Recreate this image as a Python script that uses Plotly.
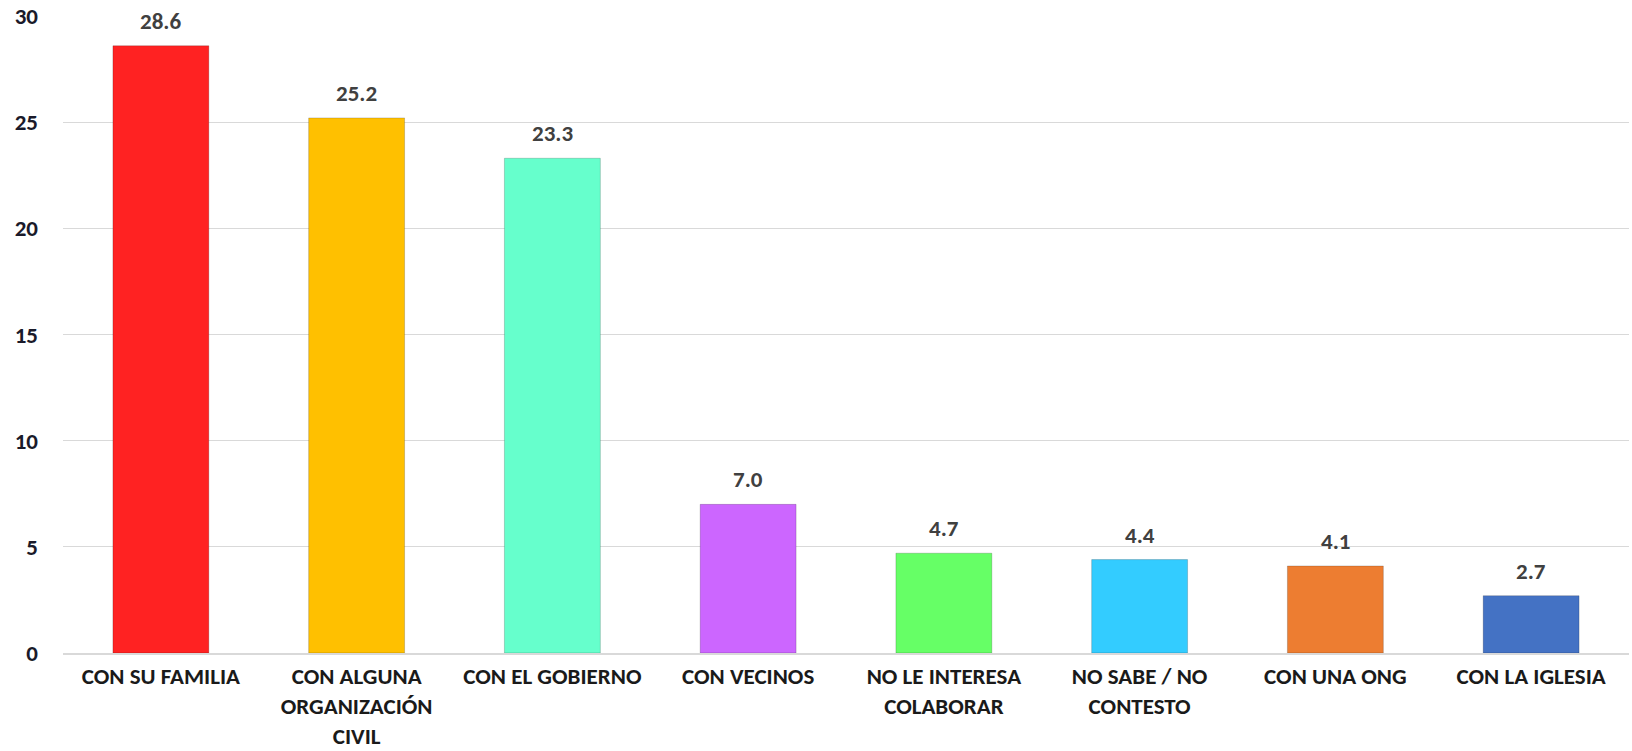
import plotly.graph_objects as go

categories = ["CON SU FAMILIA", "CON ALGUNA<br>ORGANIZACIÓN<br>CIVIL", "CON EL GOBIERNO",
              "CON VECINOS", "NO LE INTERESA<br>COLABORAR", "NO SABE / NO<br>CONTESTO",
              "CON UNA ONG", "CON LA IGLESIA"]
values = [28.6, 25.2, 23.3, 7.0, 4.7, 4.4, 4.1, 2.7]
colors = ["#FF2222", "#FFC000", "#66FFCC", "#CC66FF", "#66FF66", "#33CCFF", "#ED7D31", "#4472C4"]
yticks = [0, 5, 10, 15, 20, 25, 30]

font_family = "Carlito, Lato, 'Liberation Sans Narrow', sans-serif"

fig = go.Figure()
fig.add_trace(go.Bar(
    x=categories, y=values,
    marker=dict(color=colors, line=dict(color="rgba(0,0,0,0.18)", width=1)),
    width=0.49,
    hoverinfo="x+y",
))
for c, v in zip(categories, values):
    fig.add_annotation(x=c, y=v, text=f"{v:.1f}", showarrow=False,
                       yanchor="bottom", yshift=9,
                       font=dict(family=font_family, size=23, color="#404040", weight="bold"))

fig.update_layout(
    width=1632, height=751,
    margin=dict(l=63, r=3, t=16, b=98),
    plot_bgcolor="white", paper_bgcolor="white",
    showlegend=False,
    font=dict(family=font_family),
    xaxis=dict(showgrid=False, showline=True, linecolor="#d9d9d9", linewidth=1.5,
               tickfont=dict(family=font_family, size=23, color="#1a1a1a", weight="bold"),
               ticklabelstandoff=2, tickangle=0, automargin=False, ticklabeloverflow="allow"),
    yaxis=dict(range=[0, 30], tickvals=yticks, showgrid=True, gridcolor="#d9d9d9", gridwidth=1.2,
               zeroline=False, showline=False, automargin=False, ticklabeloverflow="allow",
               tickfont=dict(family=font_family, size=23, color="#1a1a2a", weight="bold"),
               ticklabelstandoff=24),
)
# remove the page's default 8px body margin so the figure fills the window exactly
fig.write_html("out.html", config={"displayModeBar": False},
               post_script="document.body.style.margin='0';document.body.style.overflow='hidden';")
